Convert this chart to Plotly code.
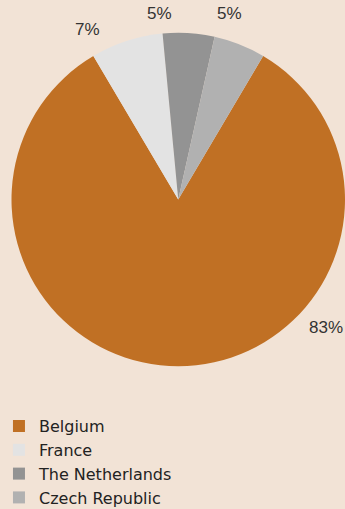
import plotly.graph_objects as go

# Data
countries = ["Belgium", "France", "The Netherlands", "Czech Republic"]
shares = [83, 7, 5, 5]
colors = ["#c07024", "#e3e3e3", "#939393", "#b1b1b1"]

# Styles / layout constants
W, H = 345, 509
BG = "#f2e3d6"
CX, CY, R = 178.5, 199.5, 167.0   # pie centre/radius in pixels (from top-left)
# label anchor points in pixels (from top-left), one per slice
label_px = [(325.5, 327.7), (87.7, 29.5), (159.5, 14.0), (229.0, 14.0)]

fig = go.Figure()
fig.add_trace(go.Pie(
    labels=countries,
    values=shares,
    sort=False,
    direction="clockwise",
    rotation=30.6,
    marker=dict(colors=colors, line=dict(width=0)),
    textinfo="none",
    hoverinfo="label+percent",
    domain=dict(x=[(CX - R) / W, min(1.0, (CX + R) / W)],
                y=[(H - CY - R) / H, (H - CY + R) / H]),
))

for v, (px, py) in zip(shares, label_px):
    fig.add_annotation(
        x=px / W, y=1 - py / H, xref="paper", yref="paper",
        text=f"{v}%", showarrow=False,
        xanchor="center", yanchor="middle",
        font=dict(family="Liberation Sans, Arial, sans-serif", size=17, color="#333333"),
    )

fig.update_layout(
    width=W, height=H,
    margin=dict(l=0, r=0, t=0, b=0, autoexpand=False),
    paper_bgcolor=BG, plot_bgcolor=BG,
    showlegend=True,
    legend=dict(
        x=-0.003, y=-0.012, xanchor="left", yanchor="bottom",
        bgcolor="rgba(0,0,0,0)",
        font=dict(family="DejaVu Sans, sans-serif", size=16, color="#222222"),
        traceorder="normal",
        itemclick=False, itemdoubleclick=False,
    ),
)

fig.write_html("out.html")
